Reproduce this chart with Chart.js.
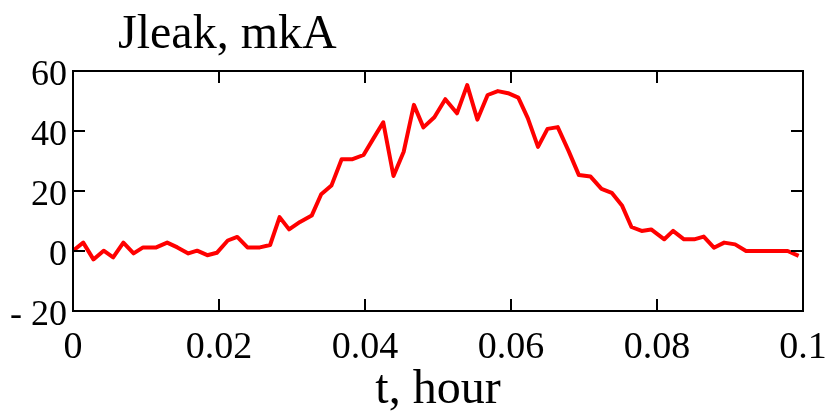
<!DOCTYPE html>
<html>
<head>
<meta charset="utf-8">
<script src="https://cdn.jsdelivr.net/npm/chart.js@4.4.0/dist/chart.umd.min.js"></script>
<style>
  body { margin: 0; background: #fff; }
  canvas { display: block; }
</style>
</head>
<body>
<canvas id="leakChart" width="836" height="415"></canvas>
<script>
// time in hours, leak current in mkA
const timeHours = [
    0, 0.0014, 0.0028, 0.0042, 0.0055, 0.0069, 0.0083, 0.0096, 0.0114, 0.0129,
    0.0143, 0.0158, 0.0170, 0.0184, 0.0197, 0.0212, 0.0225, 0.0239, 0.0256, 0.0270,
    0.0283, 0.0296, 0.0311, 0.0327, 0.0340, 0.0354, 0.0368, 0.0383, 0.0398, 0.0411,
    0.0425, 0.0439, 0.0453, 0.0467, 0.0480, 0.0495, 0.0510, 0.0526, 0.0540, 0.0554,
    0.0568, 0.0582, 0.0596, 0.0610, 0.0623, 0.0637, 0.0650, 0.0664, 0.0679, 0.0693,
    0.0709, 0.0724, 0.0738, 0.0752, 0.0765, 0.0779, 0.0792, 0.0810, 0.0822, 0.0837,
    0.0851, 0.0864, 0.0878, 0.0892, 0.0907, 0.0922, 0.0937, 0.0951, 0.0965, 0.0979,
    0.0994
];
const leakCurrent = [
    0.1, 2.8, -2.8, 0.1, -2.1, 2.8, -0.8, 1.2, 1.2, 2.8,
    1.2, -0.8, 0.1, -1.4, -0.6, 3.5, 4.7, 1.2, 1.2, 2.0,
    11.3, 7.2, 9.7, 11.8, 18.9, 21.8, 30.6, 30.6, 32.0, 37.3,
    42.9, 25.0, 33.1, 48.7, 41.2, 44.6, 50.6, 45.9, 55.3, 43.8,
    52.0, 53.3, 52.6, 51.1, 44.3, 34.7, 40.7, 41.3, 33.3, 25.3,
    24.8, 20.7, 19.4, 15.2, 8.0, 6.7, 7.2, 3.9, 6.7, 3.9,
    3.9, 4.8, 1.1, 2.8, 2.2, 0, 0, 0, 0, 0,
    -1.6
];
const xTickValues = [0, 0.02, 0.04, 0.06, 0.08, 0.1];
const yTickValues = [-20, 0, 20, 40, 60];

const yTitle = 'Jleak, mkA';
const xTitle = 't, hour';
const serif = "'Liberation Serif', 'Times New Roman', serif";

// box around the plot with inward tick marks on all four sides
const framePlugin = {
    id: 'frame',
    afterDatasetsDraw(chart) {
        const { ctx, chartArea: a, scales } = chart;
        const len = 12;
        ctx.save();
        ctx.strokeStyle = '#000';
        ctx.lineWidth = 2;
        ctx.strokeRect(a.left, a.top, a.right - a.left, a.bottom - a.top);
        ctx.beginPath();
        xTickValues.forEach(v => {
            const px = scales.x.getPixelForValue(v);
            ctx.moveTo(px, a.bottom); ctx.lineTo(px, a.bottom - len);
            ctx.moveTo(px, a.top); ctx.lineTo(px, a.top + len);
        });
        yTickValues.forEach(v => {
            const py = scales.y.getPixelForValue(v);
            ctx.moveTo(a.left, py); ctx.lineTo(a.left + len, py);
            ctx.moveTo(a.right, py); ctx.lineTo(a.right - len, py);
        });
        ctx.stroke();
        ctx.restore();
    }
};

// value label in the top-left, as in the original figure
const topLabelPlugin = {
    id: 'topLabel',
    afterDraw(chart) {
        const ctx = chart.ctx;
        ctx.save();
        ctx.fillStyle = '#000';
        ctx.font = '48px ' + serif;
        ctx.textAlign = 'left';
        ctx.textBaseline = 'alphabetic';
        ctx.fillText(yTitle, 118, 48);
        ctx.restore();
    }
};

const ctx = document.getElementById('leakChart').getContext('2d');
new Chart(ctx, {
    type: 'line',
    data: {
        datasets: [{
            label: yTitle,
            data: timeHours.map((t, i) => ({ x: t, y: leakCurrent[i] })),
            borderColor: '#ff0000',
            borderWidth: 4,
            borderJoinStyle: 'round',
            pointRadius: 0,
            tension: 0,
            fill: false
        }]
    },
    options: {
        responsive: false,
        animation: false,
        layout: {
            padding: { top: 71, right: 33, bottom: 0, left: 0 }
        },
        plugins: {
            legend: { display: false },
            tooltip: { enabled: false }
        },
        scales: {
            x: {
                type: 'linear',
                min: 0,
                max: 0.1,
                grid: { display: false, drawTicks: false },
                border: { display: false },
                afterBuildTicks: scale => {
                    scale.ticks = xTickValues.map(v => ({ value: v }));
                },
                afterFit: scale => {
                    scale.height = 104;
                    scale.paddingLeft = 0;
                    scale.paddingRight = 0;
                },
                ticks: {
                    color: '#000',
                    padding: 14,
                    maxRotation: 0,
                    autoSkip: false,
                    font: { family: serif, size: 38 },
                    callback: v => String(Number(v.toFixed(2)))
                },
                title: {
                    display: true,
                    text: xTitle,
                    color: '#000',
                    padding: { top: 0, bottom: 1 },
                    font: { family: serif, size: 48, lineHeight: 1.0 }
                }
            },
            y: {
                min: -20,
                max: 60,
                grid: { display: false, drawTicks: false },
                border: { display: false },
                afterBuildTicks: scale => {
                    scale.ticks = yTickValues.map(v => ({ value: v }));
                },
                afterFit: scale => {
                    scale.width = 73;
                    scale.paddingTop = 0;
                    scale.paddingBottom = 0;
                },
                ticks: {
                    color: '#000',
                    padding: 6,
                    labelOffset: 5,
                    font: { family: serif, size: 36 },
                    callback: v => v < 0 ? '- ' + Math.abs(v) : String(v)
                }
            }
        }
    },
    plugins: [framePlugin, topLabelPlugin]
});
</script>
</body>
</html>
